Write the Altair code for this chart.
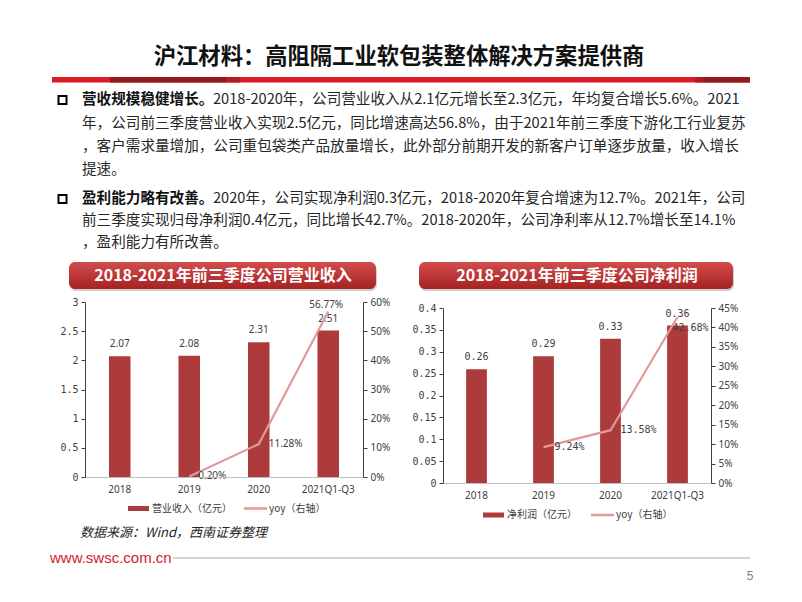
import altair as alt
import pandas as pd

# ---------------- data ----------------
categories = ["2018", "2019", "2020", "2021Q1-Q3"]
revenue = [2.07, 2.08, 2.31, 2.51]
revenue_yoy = [None, 0.20, 11.28, 56.77]
profit = [0.26, 0.29, 0.33, 0.36]
profit_yoy = [None, 9.24, 13.58, 42.68]

rev_ticks = [0, 0.5, 1, 1.5, 2, 2.5, 3]
rev_pct_ticks = [0, 10, 20, 30, 40, 50, 60]
prof_ticks = [0, 0.05, 0.1, 0.15, 0.2, 0.25, 0.3, 0.35, 0.4]
prof_pct_ticks = [0, 5, 10, 15, 20, 25, 30, 35, 40, 45]

page_title = "沪江材料：高阻隔工业软包装整体解决方案提供商"
p1_bold = "营收规模稳健增长。"
p1_lines = [
    "2018-2020年，公司营业收入从2.1亿元增长至2.3亿元，年均复合增长5.6%。2021",
    "年，公司前三季度营业收入实现2.5亿元，同比增速高达56.8%，由于2021年前三季度下游化工行业复苏",
    "，客户需求量增加，公司重包袋类产品放量增长，此外部分前期开发的新客户订单逐步放量，收入增长",
    "提速。",
]
p2_bold = "盈利能力略有改善。"
p2_lines = [
    "2020年，公司实现净利润0.3亿元，2018-2020年复合增速为12.7%。2021年，公司",
    "前三季度实现归母净利润0.4亿元，同比增长42.7%。2018-2020年，公司净利率从12.7%增长至14.1%",
    "，盈利能力有所改善。",
]
left_title = "2018-2021年前三季度公司营业收入"
right_title = "2018-2021年前三季度公司净利润"
left_legend = ["营业收入（亿元）", "yoy（右轴）"]
right_legend = ["净利润（亿元）", "yoy（右轴）"]
source_text = "数据来源：Wind，西南证券整理"
footer_url = "www.swsc.com.cn"
page_no = "5"

# ---------------- styles ----------------
CJK = "Noto Sans CJK SC"
SANS = "Noto Sans"
MONO = "DejaVu Sans Mono"
BAR = "#ae3b3b"
LINE = "#e09a9a"
AX = "#404040"
TXT = "#262626"

OX, OY = 85, 302  # page position of the left plot origin


def X(v):
    return v - OX


def Y(v):
    return v - OY


one = alt.Data(values=[{"k": 1}])


def txt(s, x, y, size=14.6, color=TXT, weight="normal", align="left",
        font=CJK, style="normal", baseline="middle"):
    return alt.Chart(one).mark_text(
        fontSize=size, color=color, fontWeight=weight, align=align,
        font=font, fontStyle=style, baseline=baseline
    ).encode(x=alt.value(X(x)), y=alt.value(Y(y)), text=alt.value(s))


def rect(x1, x2, y1, y2, **kw):
    return alt.Chart(one).mark_rect(**kw).encode(
        x=alt.value(X(x1)), x2=alt.value(X(x2)),
        y=alt.value(Y(y1)), y2=alt.value(Y(y2)))


def hrule(x1, x2, y, color, width):
    return alt.Chart(one).mark_rule(color=color, strokeWidth=width).encode(
        x=alt.value(X(x1)), x2=alt.value(X(x2)), y=alt.value(Y(y)))


box_grad = {
    "gradient": "linear", "x1": 0, "y1": 0, "x2": 0, "y2": 1,
    "stops": [
        {"offset": 0, "color": "#d24c4c"},
        {"offset": 1, "color": "#a62323"},
    ],
}

deco = []
deco.append(rect(8, 794, 8, 594, color="white"))
# header
deco.append(txt(page_title, 399, 57, size=22.3, color="#111111", weight="bold", align="center"))
HB1, HB2 = 77, 82.5
deco.append(rect(52, 750, HB1, HB2, color="#dc1b26"))
deco.append(rect(110, 226, HB1, HB2, color="#931a1c"))
deco.append(rect(226, 240, HB1, HB2, color="#b81a22"))
deco.append(rect(703, 750, HB1, HB2, color="#931a1c"))
deco.append(rect(695, 703, HB1, HB2, color="#b81a22"))
# bullets & paragraphs
line_ys1 = [100, 124, 147, 170]
line_ys2 = [199, 221, 243]
deco.append(rect(58.5, 66.5, 96, 104, fill="white", stroke="#000000", strokeWidth=2))
deco.append(rect(58.5, 66.5, 195, 203, fill="white", stroke="#000000", strokeWidth=2))
deco.append(txt(p1_bold, 82, line_ys1[0], weight="bold", color="#111111"))
deco.append(txt(p1_lines[0], 213, line_ys1[0]))
for s, yy in zip(p1_lines[1:], line_ys1[1:]):
    deco.append(txt(s, 82, yy))
deco.append(txt(p2_bold, 82, line_ys2[0], weight="bold", color="#111111"))
deco.append(txt(p2_lines[0], 213, line_ys2[0]))
for s, yy in zip(p2_lines[1:], line_ys2[1:]):
    deco.append(txt(s, 82, yy))
# chart title boxes
for (bx1, bx2, cx, t) in [(69, 376, 223, left_title), (419, 733, 577, right_title)]:
    deco.append(rect(bx1 + 1, bx2 + 1, 264, 291, color="#000000", opacity=0.18, cornerRadius=6))
    deco.append(rect(bx1, bx2, 262, 289, color=box_grad, cornerRadius=6))
    deco.append(txt(t, cx, 275.5, size=16, color="white", weight="bold", align="center"))
# legends
for (sx, lx, ly, labs) in [(128, 244, 508.5, left_legend), (483, 591, 515, right_legend)]:
    deco.append(rect(sx, sx + 21, ly - 2.5, ly + 2.5, color=BAR))
    deco.append(txt(labs[0], sx + 24, ly, size=10, color=AX))
    deco.append(hrule(lx, lx + 23, ly, LINE, 2.5))
    deco.append(txt(labs[1], lx + 25, ly, size=10, color=AX))
# source & footer
deco.append(txt(source_text, 80, 533, size=13, color=TXT, style="italic"))
deco.append(txt(footer_url, 50, 558, size=15, color="#d42030", font="Liberation Sans"))
deco.append(hrule(173, 750, 558, "#c4c4c4", 1.5))
deco.append(txt(page_no, 750, 576, size=12, color="#7f7f7f", font="Liberation Sans", align="center"))


def panel(vals, yoys, bar_dom, bar_ticks, pct_dom, pct_ticks, width, height, yrange,
          num_font, bar_lbl_font, line_offsets, extra=None):
    df = pd.DataFrame({"cat": categories, "v": vals, "yoy": yoys})
    xscale = alt.Scale(domain=categories, paddingInner=0.69, paddingOuter=0.345)
    xenc = alt.X("cat:N", scale=xscale, sort=categories,
                 axis=alt.Axis(title=None, labelAngle=0, domainColor="#bfbfbf", ticks=False,
                               labelPadding=7, labelFont=SANS, labelFontSize=10,
                               labelColor=AX, zindex=1))
    ysc = dict(domain=bar_dom)
    psc = dict(domain=pct_dom)
    if yrange is not None:
        ysc["range"] = yrange
        psc["range"] = yrange
    base = alt.Chart(df)
    bars = base.mark_bar(color=BAR).encode(
        x=xenc,
        y=alt.Y("v:Q", scale=alt.Scale(**ysc),
                axis=alt.Axis(orient="left", values=bar_ticks, grid=False, title=None,
                              domainColor=AX, tickColor=AX, tickSize=4,
                              labelFont=MONO, labelFontSize=10, labelColor=AX,
                              labelPadding=3, labelExpr="'' + datum.value", zindex=1)))
    bar_lbl = base.mark_text(dy=-12, baseline="middle", font=bar_lbl_font, fontSize=10,
                             color=AX).encode(
        x=xenc, y=alt.Y("v:Q", scale=alt.Scale(**ysc), axis=None),
        text=alt.Text("v:Q", format=".2f"))
    lbase = base.transform_filter("isValid(datum.yoy)")
    line = lbase.mark_line(color=LINE, strokeWidth=2.2).encode(
        x=xenc,
        y=alt.Y("yoy:Q", scale=alt.Scale(**psc),
                axis=alt.Axis(orient="right", values=pct_ticks, grid=False, title=None,
                              domainColor=AX, tickColor=AX, tickSize=4,
                              labelFont=SANS, labelFontSize=10, labelColor=AX,
                              labelPadding=3, labelExpr="datum.value + '%'", zindex=1)))
    layers = []
    if extra:
        layers.extend(extra)
    layers.extend([bars, bar_lbl, line])
    for cat, (dx, dy, al) in zip(categories[1:], line_offsets):
        layers.append(
            lbase.transform_filter(alt.datum.cat == cat)
            .transform_calculate(lbl="format(datum.yoy, '.2f') + '%'")
            .mark_text(dx=dx, dy=dy, align=al, baseline="middle", font=num_font,
                       fontSize=10, color=AX)
            .encode(x=xenc, y=alt.Y("yoy:Q", scale=alt.Scale(**psc), axis=None),
                    text="lbl:N"))
    return alt.layer(*layers).resolve_scale(y="independent").properties(
        width=width, height=height)


left = panel(revenue, revenue_yoy, [0, 3], rev_ticks, [0, 60], rev_pct_ticks,
             278, 175, None, SANS, SANS,
             [(9, 0, "left"), (10, 0, "left"), (-2, -6, "center")], extra=deco)
right = panel(profit, profit_yoy, [0, 0.4], prof_ticks, [0, 45], prof_pct_ticks,
              268, 181, [181, 6], MONO, MONO,
              [(11, 0, "left"), (10, 0, "left"), (-5, 11, "left")])

chart = alt.hconcat(left, right, spacing=80, bounds="flush", padding=0,
                    background="white").configure_view(stroke=None)

chart.save("out.html", embed_options={"renderer": "svg", "actions": False})
